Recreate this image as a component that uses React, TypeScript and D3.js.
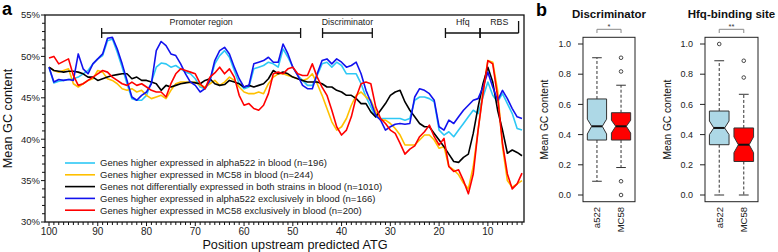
import React from "react";
import * as d3 from "d3";

// ---------- Panel a data ----------
const POSITIONS: number[] = d3.range(100, 2, -1); // 100 .. 3

const SERIES_LABELS = [
  "Genes higher expressed in alpha522 in blood (n=196)",
  "Genes higher expressed in MC58 in blood (n=244)",
  "Genes not differentially expressed in both strains in blood (n=1010)",
  "Genes higher expressed in alpha522 exclusively in blood (n=166)",
  "Genes higher expressed in MC58 exclusively in blood (n=200)",
];
const SERIES_COLORS = ["#2ec8f5", "#ffc000", "#000000", "#1212ee", "#ff0000"];

const CYAN = [
  48.7, 46.8, 47.0, 47.1, 47.2, 47.3, 47.5, 47.9, 48.3, 49.1,
  49.7, 50.1, 51.9, 52.1, 50.5, 48.7, 46.7, 44.9, 44.7, 44.7,
  45.3, 46.9, 48.7, 49.2, 49.1, 48.7, 48.9, 48.5, 48.1, 47.9,
  47.3, 46.3, 46.1, 47.0, 49.1, 50.1, 50.7, 49.9, 48.3, 46.7,
  46.1, 46.3, 48.5, 48.7, 48.9, 49.3, 49.1, 48.7, 50.9, 49.9,
  48.7, 47.7, 47.1, 46.5, 46.5, 47.7, 49.1, 49.3, 48.7, 49.3,
  48.9, 47.9, 47.9, 47.9, 46.7, 45.1, 43.9, 42.7, 42.5, 42.5,
  42.5, 42.5, 42.5, 42.3, 42.5, 44.7, 45.1, 45.1, 44.9, 44.5,
  41.1, 40.5, 40.9, 40.3, 41.1, 41.9, 42.7, 43.5, 43.1, 45.1,
  46.9, 45.3, 44.5, 45.5, 44.3, 43.1, 41.3, 41.1,
];
const YELLOW = [
  48.7, 48.3, 48.1, 48.3, 48.5, 46.7, 46.3, 46.7, 47.1, 47.3,
  48.3, 48.1, 47.3, 47.1, 46.7, 46.1, 45.9, 46.1, 45.7, 45.9,
  45.3, 44.9, 45.1, 45.3, 44.9, 45.9, 46.7, 46.9, 46.9, 46.8,
  46.9, 46.5, 46.3, 46.7, 47.1, 46.5, 46.9, 47.5, 47.1, 46.3,
  45.7, 45.5, 45.5, 45.7, 45.5, 46.7, 47.5, 47.9, 47.9, 47.7,
  47.5, 47.3, 47.1, 47.3, 47.9, 46.7, 45.3, 43.7, 42.1, 41.1,
  41.5, 42.5, 44.1, 45.3, 45.7, 45.1, 44.7, 43.3, 42.3, 42.3,
  41.9, 41.3, 40.5, 39.3, 39.3, 39.3, 39.9, 40.5, 40.5, 39.9,
  38.9, 39.1, 36.7, 36.3, 35.7, 34.7, 34.0, 36.7, 41.1, 45.7,
  49.5, 49.3, 45.9, 39.1, 35.0, 34.2, 34.6, 35.0,
];
const BLACK = [
  48.7, 48.3, 48.2, 48.1, 48.2, 48.2, 48.1, 47.9, 47.5, 47.5,
  47.1, 47.3, 47.5, 47.7, 47.8, 47.9, 47.9, 47.3, 47.5, 47.1,
  47.1, 46.9, 46.7, 45.9, 46.5, 46.3, 46.5, 46.7, 46.8, 46.9,
  46.8, 46.7, 47.1, 47.3, 46.7, 46.5, 46.6, 47.1, 46.9, 46.7,
  46.3, 46.5, 46.3, 46.5, 46.7, 47.3, 48.3, 47.9, 48.1, 47.9,
  47.5, 47.3, 47.1, 46.9, 46.9, 46.9, 46.7, 46.3, 46.3, 45.9,
  45.7, 45.3, 45.3, 44.9, 44.3, 44.3, 43.3, 42.7, 43.5, 44.3,
  45.3, 45.7, 45.9, 44.5, 43.5, 42.7, 41.9, 41.5, 41.5, 40.7,
  39.9, 39.1, 38.2, 37.3, 37.2, 37.8, 38.2, 40.7, 43.9, 46.7,
  48.7, 46.9, 43.5, 41.1, 38.3, 38.7, 38.4, 38.0,
];
const BLUE = [
  48.7, 46.9, 47.2, 47.1, 47.2, 47.1, 50.3, 48.5, 47.9, 49.1,
  49.7, 50.3, 52.2, 52.3, 50.9, 49.1, 47.1, 45.1, 44.7, 45.3,
  45.7, 46.7, 50.7, 51.8, 51.3, 50.3, 50.1, 49.1, 47.9, 46.9,
  46.5, 45.7, 46.1, 47.1, 49.5, 50.7, 51.1, 50.3, 48.7, 47.3,
  46.3, 46.5, 49.1, 49.3, 49.5, 49.9, 49.3, 49.3, 51.5, 50.3,
  48.7, 47.7, 46.5, 46.1, 46.1, 47.9, 49.5, 49.7, 49.1, 49.7,
  49.3, 48.7, 48.9, 49.3, 47.9, 45.9, 44.5, 42.9, 42.3, 41.1,
  41.5, 41.8, 41.9, 41.8, 41.9, 45.1, 46.1, 45.9, 45.5, 44.7,
  41.5, 41.1, 42.3, 41.9, 42.7, 43.5, 44.1, 44.7, 44.9, 46.3,
  48.1, 46.3, 44.7, 45.9, 44.9, 43.7, 42.7, 42.5,
];
const RED = [
  49.8, 50.0, 49.1, 49.4, 49.7, 47.7, 46.5, 46.7, 47.1, 47.5,
  47.9, 48.3, 48.1, 47.5, 47.1, 46.7, 46.5, 46.9, 46.5, 46.7,
  46.3, 45.9, 45.7, 45.7, 45.1, 46.7, 47.9, 48.5, 48.3, 48.1,
  47.9, 46.7, 46.1, 47.5, 48.0, 48.7, 47.9, 48.5, 47.5, 45.3,
  44.1, 44.3, 43.7, 43.5, 44.1, 45.5, 47.9, 48.1, 47.9, 48.5,
  48.7, 47.9, 47.7, 47.7, 49.1, 47.5, 46.3, 45.3, 43.5, 41.5,
  40.5, 41.1, 42.7, 45.1, 46.7, 46.9, 46.7, 43.9, 42.5, 41.9,
  41.1, 40.7, 39.5, 38.2, 38.8, 39.2, 40.3, 40.9, 41.7, 40.3,
  39.3, 40.1, 36.7, 36.1, 36.3, 35.0, 33.4, 35.8, 41.1, 45.5,
  49.5, 49.1, 45.1, 39.5, 35.8, 34.0, 34.6, 35.9,
];
const SERIES = [CYAN, YELLOW, BLACK, BLUE, RED];

const Y_TICKS_A = [30, 35, 40, 45, 50, 55];
const X_TICKS_A = [100, 90, 80, 70, 60, 50, 40, 30, 20, 10];

const REGION_NAMES = ["Promoter region", "Discriminator", "Hfq", "RBS"];
const REGION_START = [89.2, 43.9, 18.7, 11.6];
const REGION_END = [48.4, 33.7, 11.6, 3.7];

// ---------- Panel b data ----------
const BOX_GROUPS = ["a522", "MC58"];
const BOX_FILLS = ["#add8e6", "#ff0000"];
const BOX_Y_TICKS = [0, 0.2, 0.4, 0.6, 0.8, 1.0];

const DISC_LOW = [0.091, 0.182];
const DISC_Q1 = [0.364, 0.364];
const DISC_MED = [0.455, 0.455];
const DISC_Q3 = [0.636, 0.545];
const DISC_HIGH = [0.909, 0.727];
const DISC_NOTCH_LO = [0.404, 0.41];
const DISC_NOTCH_HI = [0.502, 0.495];
const DISC_OUT = [[], [0.909, 0.818, 0.091, 0.0]];

const HFQ_LOW = [0.0, 0.0];
const HFQ_Q1 = [0.333, 0.222];
const HFQ_MED = [0.444, 0.333];
const HFQ_Q3 = [0.556, 0.444];
const HFQ_HIGH = [0.889, 0.667];
const HFQ_NOTCH_LO = [0.4, 0.28];
const HFQ_NOTCH_HI = [0.49, 0.385];
const HFQ_OUT = [[1.0], [0.889, 0.778]];

const FONT = "'Liberation Sans', Arial, Helvetica, sans-serif";

function PanelA() {
  const x = d3.scaleLinear().domain([100, 3]).range([49, 522]);
  const y = d3.scaleLinear().domain([30, 55]).range([222, 15]);
  const line = d3
    .line<number>()
    .x((_, i) => x(POSITIONS[i]))
    .y((d) => y(d));
  const left = 45, right = 524, top = 15, bottom = 222;
  const minorY = d3.range(30, 55.01, 1);
  const minorX = d3.range(100, 2, -1);
  return (
    <g fontFamily={FONT}>
      <text x={2} y={15} fontSize={18} fontWeight="bold">a</text>
      {SERIES.map((s, i) => (
        <path key={i} d={line(s) || ""} fill="none" stroke={SERIES_COLORS[i]} strokeWidth={1.6} strokeLinejoin="round" />
      ))}
      <rect x={left} y={top} width={right - left} height={bottom - top} fill="none" stroke="#111" strokeWidth={1.3} />
      {minorY.map((v) => (
        <line key={"my" + v} x1={left} x2={left - (v % 5 === 0 ? 4 : 3)} y1={y(v)} y2={y(v)} stroke="#111" strokeWidth={1} />
      ))}
      {Y_TICKS_A.map((v) => (
        <text key={"yt" + v} x={40} y={y(v)} dy="0.35em" textAnchor="end" fontSize={9.5} fill="#222">{v + "%"}</text>
      ))}
      {minorX.map((v) => (
        <line key={"mx" + v} x1={x(v)} x2={x(v)} y1={bottom} y2={bottom + (v % 10 === 0 ? 4 : 3)} stroke="#111" strokeWidth={1} />
      ))}
      {X_TICKS_A.map((v) => (
        <text key={"xt" + v} x={x(v)} y={235} textAnchor="middle" fontSize={10} fill="#222">{v}</text>
      ))}
      <text x={295} y={249} textAnchor="middle" fontSize={12.7} fill="#111">Position upstream predicted ATG</text>
      <text transform={`translate(12,${(top + bottom) / 2}) rotate(-90)`} textAnchor="middle" fontSize={12.7} fill="#111">Mean GC content</text>
      {REGION_NAMES.map((name, i) => {
        const x1 = x(REGION_START[i]);
        const x2 = x(REGION_END[i]);
        const yy = 33;
        const isLast = i === REGION_NAMES.length - 1;
        return (
          <g key={name}>
            <line x1={x1} x2={x2} y1={yy} y2={yy} stroke="#111" strokeWidth={1.3} />
            <line x1={x1} x2={x1} y1={yy - 5} y2={yy + 5} stroke="#111" strokeWidth={1.3} />
            {isLast ? (
              <line x1={x2} x2={x2} y1={yy - 12} y2={yy} stroke="#111" strokeWidth={1.3} />
            ) : (
              <line x1={x2} x2={x2} y1={yy - 5} y2={yy + 5} stroke="#111" strokeWidth={1.3} />
            )}
            <text x={(x1 + x2) / 2} y={24.5} textAnchor="middle" fontSize={8.8} fill="#222">{name}</text>
          </g>
        );
      })}
      {SERIES_LABELS.map((lab, i) => {
        const yy = 163 + i * 11.8;
        return (
          <g key={lab}>
            <line x1={65} x2={95} y1={yy} y2={yy} stroke={SERIES_COLORS[i]} strokeWidth={1.6} />
            <text x={100} y={yy} dy="0.35em" fontSize={9.5} fill="#222">{lab}</text>
          </g>
        );
      })}
    </g>
  );
}

type BoxProps = {
  left: number;
  right: number;
  title: string;
  stars: string;
  low: number[];
  q1: number[];
  med: number[];
  q3: number[];
  high: number[];
  nlo: number[];
  nhi: number[];
  out: number[][];
  ytitleX: number;
};

function BoxPanel(p: BoxProps) {
  const top = 37.3, bottom = 201.7;
  const y = d3.scaleLinear().domain([0, 1]).range([195, 44]);
  const x = d3.scaleLinear().domain([0.42, 2.58]).range([p.left, p.right]);
  const hw = x(1.4) - x(1); // half box width (boxwex 0.8)
  const notchIn = hw * 0.45;
  const cx = [x(1), x(2)];
  return (
    <g fontFamily={FONT}>
      <text x={(p.left + p.right) / 2} y={17.5} textAnchor="middle" fontSize={11.5} fontWeight="bold" fill="#111">{p.title}</text>
      <path d={`M${cx[0]},33 V29.3 H${cx[1]} V33`} fill="none" stroke="#888" strokeWidth={1} />
      <text x={(cx[0] + cx[1]) / 2} y={28.5} textAnchor="middle" fontSize={7.5} fill="#333">{p.stars}</text>
      {BOX_GROUPS.map((g, i) => {
        const c = cx[i];
        const boxPath = `M${c - hw},${y(p.q1[i])} L${c - hw},${y(p.nlo[i])} L${c - hw + notchIn},${y(p.med[i])} L${c - hw},${y(p.nhi[i])} L${c - hw},${y(p.q3[i])} L${c + hw},${y(p.q3[i])} L${c + hw},${y(p.nhi[i])} L${c + hw - notchIn},${y(p.med[i])} L${c + hw},${y(p.nlo[i])} L${c + hw},${y(p.q1[i])} Z`;
        return (
          <g key={g}>
            <line x1={c} x2={c} y1={y(p.q3[i])} y2={y(p.high[i])} stroke="#333" strokeDasharray="3,2" />
            <line x1={c} x2={c} y1={y(p.q1[i])} y2={y(p.low[i])} stroke="#333" strokeDasharray="3,2" />
            <line x1={c - hw / 2} x2={c + hw / 2} y1={y(p.high[i])} y2={y(p.high[i])} stroke="#333" />
            <line x1={c - hw / 2} x2={c + hw / 2} y1={y(p.low[i])} y2={y(p.low[i])} stroke="#333" />
            <path d={boxPath} fill={BOX_FILLS[i]} stroke="#333" strokeWidth={1} />
            <line x1={c - hw + notchIn} x2={c + hw - notchIn} y1={y(p.med[i])} y2={y(p.med[i])} stroke="#111" strokeWidth={2} />
            {p.out[i].map((o, k) => (
              <circle key={k} cx={c} cy={y(o)} r={1.8} fill="none" stroke="#333" strokeWidth={0.9} />
            ))}
            <text transform={`translate(${c},207) rotate(-90)`} textAnchor="end" dy="0.35em" fontSize={9.5} fill="#222">{g}</text>
          </g>
        );
      })}
      <rect x={p.left} y={top} width={p.right - p.left} height={bottom - top} fill="none" stroke="#222" strokeWidth={1} />
      {BOX_Y_TICKS.map((v) => (
        <g key={v}>
          <line x1={p.left} x2={p.left - 5} y1={y(v)} y2={y(v)} stroke="#222" />
          <text x={p.left - 12} y={y(v)} dy="0.35em" textAnchor="end" fontSize={9} fill="#222">{v.toFixed(1)}</text>
        </g>
      ))}
      <text transform={`translate(${p.ytitleX},${(top + bottom) / 2}) rotate(-90)`} textAnchor="middle" dy="0.35em" fontSize={10.2} fill="#111">Mean GC content</text>
    </g>
  );
}

export default function App() {
  return (
    <div style={{ position: "absolute", left: 0, top: 0, background: "#fff" }}>
      <svg width={778} height={252} style={{ display: "block" }}>
        <rect width={778} height={252} fill="#fff" />
        <PanelA />
        <text x={536} y={16} fontSize={18} fontWeight="bold" fontFamily={FONT}>b</text>
        <BoxPanel left={583} right={635} title="Discriminator" stars="*" low={DISC_LOW} q1={DISC_Q1} med={DISC_MED} q3={DISC_Q3} high={DISC_HIGH} nlo={DISC_NOTCH_LO} nhi={DISC_NOTCH_HI} out={DISC_OUT} ytitleX={544} />
        <BoxPanel left={705} right={758} title="Hfq-binding site" stars="**" low={HFQ_LOW} q1={HFQ_Q1} med={HFQ_MED} q3={HFQ_Q3} high={HFQ_HIGH} nlo={HFQ_NOTCH_LO} nhi={HFQ_NOTCH_HI} out={HFQ_OUT} ytitleX={667} />
      </svg>
    </div>
  );
}
